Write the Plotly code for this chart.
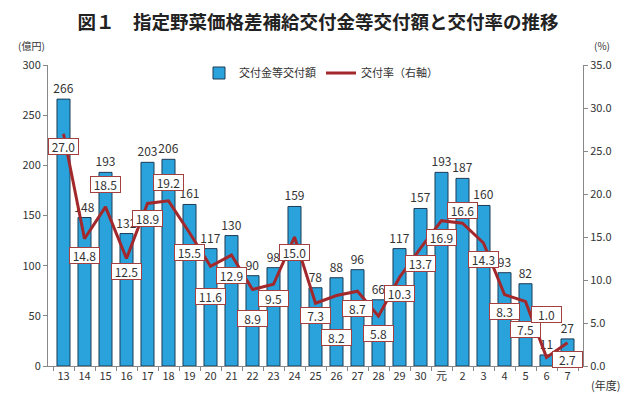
import plotly.graph_objects as go

# 年度
years = ['13', '14', '15', '16', '17', '18', '19', '20', '21', '22', '23', '24', '25',
         '26', '27', '28', '29', '30', '元', '2', '3', '4', '5', '6', '7']
# 交付金等交付額（億円）
amounts = [266, 148, 193, 132, 203, 206, 161, 117, 130, 90, 98, 159, 78,
           88, 96, 66, 117, 157, 193, 187, 160, 93, 82, 11, 27]
# 交付率（%）
rates = [27.0, 14.8, 18.5, 12.5, 18.9, 19.2, 15.5, 11.6, 12.9, 8.9, 9.5, 15.0, 7.3,
         8.2, 8.7, 5.8, 10.3, 13.7, 16.9, 16.6, 14.3, 8.3, 7.5, 1.0, 2.7]
# ラベルの上下ずらし（px）
label_shift = [-13, -17, 22, -13, -15, 18, -20, -30, -20, -29, -14, -15, -12,
               -42, -17, -17, -16, -15, -17, 13, -16, -17, -28, 43, -17]

font_jp = 'Noto Sans CJK JP'
# ページ余白(8px)の分だけ小さくする
OFF = 8
W, H = 640 - OFF, 402 - OFF
ML, MR, MT, MB = 48 - OFF, 57, 65 - OFF, 36


# 画面のピクセル座標 -> paper座標
def px_x(px):
    return (px - OFF - ML) / (W - ML - MR)


def px_y(py):
    return (H - MB - (py - OFF)) / (H - MT - MB)


fig = go.Figure()
fig.add_trace(go.Bar(
    x=years, y=amounts, name='交付金等交付額',
    marker=dict(color='#2aa3dc', line=dict(color='#1d3b55', width=1)),
    text=amounts, textposition='outside', cliponaxis=False, constraintext='none',
    textfont=dict(size=12, color='#333333'),
))
fig.add_trace(go.Scatter(
    x=years, y=rates, name='交付率（右軸）', yaxis='y2', mode='lines',
    line=dict(color='#a3282c', width=3),
))

# 交付率のラベル（カテゴリ位置は番号で指定）
for i, (r, s) in enumerate(zip(rates, label_shift)):
    fig.add_annotation(
        x=i, y=r, xref='x', yref='y2', text=f'{r:.1f}', showarrow=False,
        yshift=s, bgcolor='white', bordercolor='#a3403f', borderwidth=1,
        borderpad=0, width=29, height=15, font=dict(size=12, color='#333333'),
    )

# 単位
units = [('(億円)', 31, 46, 10), ('(%)', 602, 46, 10), ('(年度)', 605, 385, 11)]
for txt, ux, uy, fs in units:
    fig.add_annotation(x=px_x(ux), y=px_y(uy), xref='paper', yref='paper', text=txt,
                       xanchor='center', yanchor='middle', showarrow=False,
                       font=dict(size=fs, color='#333333'))

fig.update_layout(
    width=W, height=H,
    margin=dict(l=ML, r=MR, t=MT, b=MB),
    paper_bgcolor='white', plot_bgcolor='white',
    font=dict(family=font_jp, size=11, color='#333333'),
    title=dict(text='<b>図１　指定野菜価格差補給交付金等交付額と交付率の推移</b>',
               x=(318 - OFF) / W, xanchor='center', y=1 - (23 - OFF) / H, yanchor='middle',
               font=dict(size=18.5, color='#222222')),
    bargap=0.38,
    showlegend=True,
    legend=dict(orientation='h', x=px_x(321), xanchor='center', y=px_y(73), yanchor='middle',
                font=dict(size=11), bgcolor='rgba(0,0,0,0)'),
    xaxis=dict(type='category', showline=True, linecolor='#888888', ticks='outside',
               tickson='boundaries', ticklen=4, tickcolor='#888888', showgrid=False,
               tickangle=0),
    yaxis=dict(range=[0, 300], dtick=50, showline=True, linecolor='#888888', ticks='outside',
               ticklen=4, tickcolor='#888888', showgrid=False, zeroline=False),
    yaxis2=dict(range=[0, 35], dtick=5, tickformat='.1f', overlaying='y', side='right',
                showline=True, linecolor='#888888', ticks='outside', ticklen=4,
                tickcolor='#888888', showgrid=False, zeroline=False),
)

fig.write_html('out.html')
